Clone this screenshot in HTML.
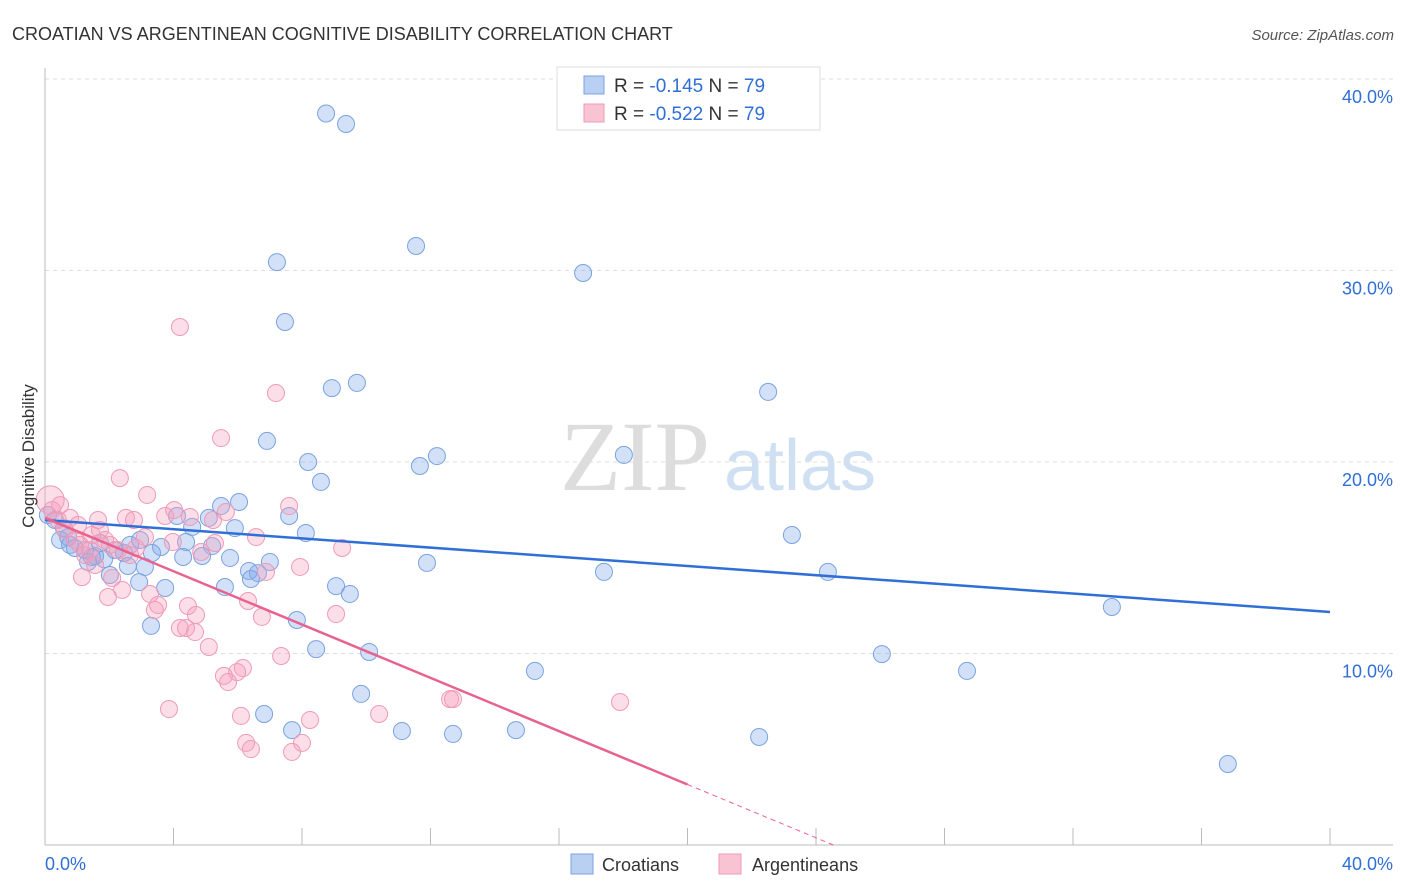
<!DOCTYPE html>
<html><head><meta charset="utf-8"><style>
body{margin:0;background:#fff;font-family:"Liberation Sans",sans-serif;}
svg{display:block}
</style></head><body>
<svg id="chart" width="1406" height="892" xmlns="http://www.w3.org/2000/svg">
<text x="12" y="40" font-size="18" fill="#333">CROATIAN VS ARGENTINEAN COGNITIVE DISABILITY CORRELATION CHART</text>
<text x="1394" y="40" font-size="15" fill="#555" font-style="italic" text-anchor="end">Source: ZipAtlas.com</text>
<g>
<text x="635" y="490" font-size="100" fill="#ddd" font-family="Liberation Serif,serif" text-anchor="middle">ZIP</text>
<text x="800" y="490" font-size="72" fill="#cfe0f3" text-anchor="middle">atlas</text>
</g>
<g id="grid"></g><g id="axes"></g><g id="pts"></g><g id="lines"></g>
<text transform="translate(34,456) rotate(-90)" font-size="17" fill="#333" text-anchor="middle">Cognitive Disability</text>
<g>
<rect x="557" y="67" width="263" height="63" fill="#fff" stroke="#ddd"/>
<rect x="584" y="76" width="20" height="18" fill="#b9d0f3" stroke="#7aa2e0"/>
<rect x="584" y="104" width="20" height="18" fill="#f8c4d4" stroke="#f09ab6"/>
<text x="614" y="92" font-size="19" fill="#333">R = <tspan fill="#2f6fd6">-0.145</tspan>   N = <tspan fill="#2f6fd6">79</tspan></text>
<text x="614" y="120" font-size="19" fill="#333">R = <tspan fill="#2f6fd6">-0.522</tspan>   N = <tspan fill="#2f6fd6">79</tspan></text>
</g>
<g>
<rect x="571" y="854" width="22" height="20" fill="#b9d0f3" stroke="#7aa2e0"/>
<text x="602" y="871" font-size="18" fill="#333">Croatians</text>
<rect x="719" y="854" width="22" height="20" fill="#f8c4d4" stroke="#f09ab6"/>
<text x="752" y="871" font-size="18" fill="#333">Argentineans</text>
</g>
</svg>
<script>
const yTicks=[10,20,30,40];
const yTickLabels=["10.0%","20.0%","30.0%","40.0%"];
const xTickLabels=["0.0%","40.0%"];
const blueX=[8.75,9.37,11.55,7.22,16.75,7.47,8.93,9.71,22.51,6.91,12.2,11.67,8.19,18.02,8.59,6.04,5.48,4.11,5.1,7.6,5.91,4.58,8.12,23.25,4.39,3.61,5.2,5.76,4.89,4.3,7.0,11.89,17.4,24.37,6.35,6.63,6.41,9.06,5.6,9.49,3.74,2.93,2.02,1.84,2.46,2.58,3.11,3.33,7.84,3.3,8.44,10.09,26.05,15.25,28.7,33.21,9.84,6.82,7.69,11.11,12.7,14.66,22.23,36.82,0.47,0.78,1.25,1.56,0.93,1.34,0.59,0.31,1.71,2.18,2.65,0.09,1.46,2.96,0.72];
const blueY=[38.2,37.65,31.28,30.44,29.87,27.31,23.86,24.13,23.66,21.1,20.31,19.79,20.0,20.37,18.96,17.91,17.7,17.18,17.08,17.18,16.55,16.61,16.29,16.19,15.82,15.56,15.61,14.99,15.09,15.04,14.78,14.73,14.26,14.26,14.31,14.2,13.89,13.52,13.47,13.11,13.42,13.73,14.1,14.93,15.25,14.57,14.52,15.25,11.75,11.44,10.23,10.08,9.97,9.09,9.09,12.43,7.89,6.84,6.0,5.95,5.8,6.0,5.64,4.23,15.93,15.67,15.4,15.09,15.51,14.78,16.55,16.97,15.77,15.4,15.67,17.23,15.04,15.93,16.08];
const pinkX=[0.16,0.22,0.4,0.78,0.62,0.93,1.09,1.25,1.4,1.56,1.71,1.87,2.33,3.18,4.2,7.19,5.48,2.52,2.77,3.74,4.02,4.51,5.23,5.63,7.6,6.57,5.29,4.86,3.98,3.11,2.83,2.65,2.27,2.09,2.4,1.96,1.15,3.27,3.52,4.45,4.7,4.2,4.39,4.67,5.1,3.42,9.25,7.94,6.88,6.32,6.75,9.06,7.35,6.16,5.98,5.57,5.7,3.86,6.1,8.25,10.4,12.61,17.9,6.26,6.41,8.0,7.69,1.65,0.47,1.03,1.46,2.02,12.7];
const pinkY=[18.02,17.49,16.97,17.08,16.45,15.93,15.67,15.14,15.4,14.62,16.45,15.93,19.16,18.28,27.05,23.6,21.25,17.08,16.97,17.18,17.49,17.13,16.97,17.39,17.7,16.08,15.77,15.3,15.82,16.08,15.51,15.14,15.4,13.94,13.32,12.95,13.99,13.11,12.53,12.48,12.01,11.33,11.33,11.12,10.34,12.27,15.51,14.52,14.26,12.74,11.91,12.06,9.87,9.24,9.03,8.83,8.51,7.1,6.74,6.53,6.84,7.62,7.47,5.33,5.01,5.33,4.86,16.97,17.75,16.71,16.19,15.67,7.62];
const blueTrend=[16.97,12.17];
const pinkTrend=[17.08,-0.696];
const NS="http://www.w3.org/2000/svg";
const X=v=>45+v*32.125, Y=v=>845-v*19.15;
function mk(t,a,p){const e=document.createElementNS(NS,t);for(const k in a)e.setAttribute(k,a[k]);p.appendChild(e);return e;}
const grid=document.getElementById('grid'),axes=document.getElementById('axes'),pts=document.getElementById('pts'),lines=document.getElementById('lines');
yTicks.forEach((v,i)=>{
 const l=mk('line',{x1:45,x2:1393,y1:Y(v),y2:Y(v),stroke:'#ddd','stroke-dasharray':'4,4'},grid);
 
 
 const t=mk('text',{x:1393,y:Y(v)+24,'font-size':18,fill:'#2f6fd6','text-anchor':'end'},axes);
 t.textContent=yTickLabels[i];
 
 
});
const ax=mk('line',{x1:45,x2:1393,y1:845,y2:845,stroke:'#bbb'},axes);


const ay=mk('line',{x1:45,x2:45,y1:68,y2:845,stroke:'#bbb'},axes);


for(let v=4;v<=40;v+=4){const tk=mk('line',{x1:X(v),x2:X(v),y1:828,y2:845,stroke:'#bbb'},axes);
 
 }
[[0,'start',45],[40,'end',1393]].forEach((d,i)=>{const t=mk('text',{x:d[2],y:870,'font-size':18,fill:'#2f6fd6','text-anchor':d[1]},axes);t.textContent=xTickLabels[i];
 
 });
blueX.forEach((x,i)=>{const c=mk('circle',{cx:X(x),cy:Y(blueY[i]),r:8.5,fill:'rgba(130,170,235,0.35)',stroke:'#7aa2e0','stroke-width':1},pts);
 
 });
pinkX.forEach((x,i)=>{const c=mk('circle',{cx:X(x),cy:Y(pinkY[i]),r:i==0?14:8.5,fill:'rgba(245,160,190,0.35)',stroke:'#f09ab6','stroke-width':1},pts);
 
 });
const bl=mk('line',{x1:X(0),y1:Y(blueTrend[0]),x2:X(40),y2:Y(blueTrend[1]),stroke:'#2f6fd6','stroke-width':2.5},lines);


const pe=20, pz=-pinkTrend[0]/pinkTrend[1];
const pl=mk('line',{x1:X(0),y1:Y(pinkTrend[0]),x2:X(pe),y2:Y(pinkTrend[0]+pinkTrend[1]*pe),stroke:'#e8628f','stroke-width':2.5},lines);


const pd=mk('line',{x1:X(pe),y1:Y(pinkTrend[0]+pinkTrend[1]*pe),x2:X(pz),y2:Y(0),stroke:'#e8628f','stroke-width':1,'stroke-dasharray':'5,4'},lines);


</script>
</body></html>
